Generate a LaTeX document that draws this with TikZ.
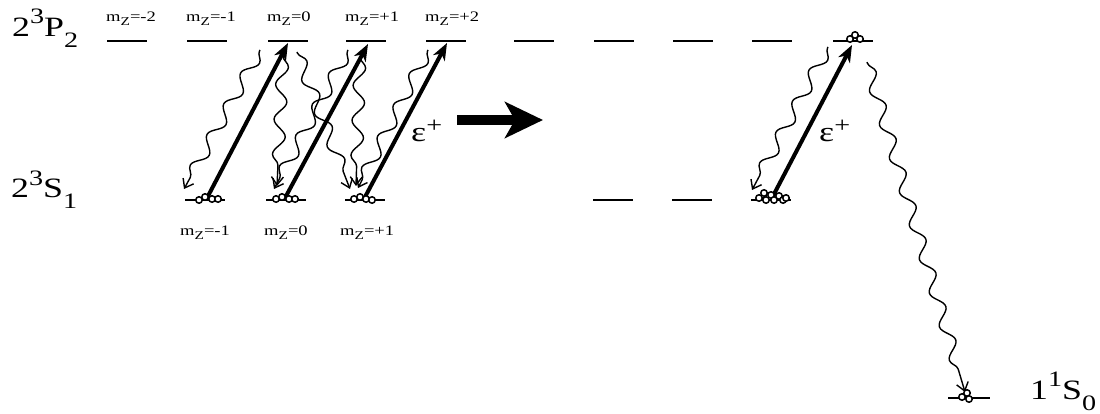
\documentclass[tikz,border=0pt]{standalone}
\usepackage{fontspec}
\setmainfont{Liberation Serif}[FakeStretch=1.28]
\usetikzlibrary{arrows.meta,decorations.pathmorphing}
\newcommand{\sps}[1]{\raisebox{13pt}{\fontsize{22}{22}\selectfont #1}}
\newcommand{\sbs}[1]{\raisebox{-11pt}{\fontsize{22}{22}\selectfont #1}}
\newcommand{\mzl}[1]{m\raisebox{-3.5pt}{\fontsize{12}{12}\selectfont Z}#1}
\begin{document}
\begin{tikzpicture}[x=1pt,y=-1pt,
  lvl/.style={line width=1.6pt},
  pump/.style={line width=4pt,-{Stealth[length=17pt,width=13pt,inset=5pt]}},
  wave/.style={line width=1.4pt,decorate,
    decoration={snake,amplitude=6pt,segment length=35pt,pre length=1pt,post length=8pt},
    -{Straight Barb[length=8pt,width=12pt]}},
  atom/.style={circle,draw,line width=1.5pt,fill=white,inner sep=0pt,minimum size=6.5pt},
  big/.style={font=\fontsize{28}{30}\selectfont,inner sep=0pt},
  mz/.style={font=\fontsize{14.5}{16}\selectfont,inner sep=0pt},
  bigarrow/.style={line width=10pt,-{Stealth[length=38pt,width=36pt,inset=10pt]}}]
\useasboundingbox (0,0) rectangle (1100,414);

% levels
\foreach \x [count=\i] in {107,187,268,346,426,514,594,673,752,833}{
  \coordinate (u\i a) at (\x,41); \coordinate (u\i b) at (\x+40,41);
  \draw[lvl] (u\i a) -- (u\i b);}
\foreach \x [count=\i] in {185,266,345,593,672,751}{
  \coordinate (l\i a) at (\x,200); \coordinate (l\i b) at (\x+40,200);
  \draw[lvl] (l\i a) -- (l\i b);}
\coordinate (g a) at (948,398); \coordinate (g b) at (990,398);
\draw[lvl] (g a) -- (g b);

% labels
\node[big,anchor=base west] (P2) at (12,37) {2\sps{3}P\sbs{2}};
\node[big,anchor=base west] (S1) at (11,198) {2\sps{3}S\sbs{1}};
\node[big,anchor=base west] (S0) at (1030,399) {1\sps{1}S\sbs{0}};
\node[mz,anchor=base west] (t1) at (106,22) {\mzl{=-2}};
\node[mz,anchor=base west] (t2) at (186,22) {\mzl{=-1}};
\node[mz,anchor=base west] (t3) at (267,22) {\mzl{=0}};
\node[mz,anchor=base west] (t4) at (345,22) {\mzl{=+1}};
\node[mz,anchor=base west] (t5) at (425,22) {\mzl{=+2}};
\node[mz,anchor=base west] (b1) at (180,236) {\mzl{=-1}};
\node[mz,anchor=base west] (b2) at (264,236) {\mzl{=0}};
\node[mz,anchor=base west] (b3) at (340,236) {\mzl{=+1}};
\node[big,anchor=base west] (e1) at (411,142) {ε\raisebox{9pt}{\fontsize{22}{22}\selectfont +}};
\node[big,anchor=base west] (e2) at (819,142) {ε\raisebox{9pt}{\fontsize{22}{22}\selectfont +}};

% big arrow
\coordinate (bA) at (457,120); \coordinate (bB) at (543,120);
\draw[bigarrow] (bA) -- (bB);

% wavy decays
\coordinate (w1s) at (260,50);  \coordinate (w1e) at (184,189);
\coordinate (w2s) at (283,55);  \coordinate (w2e) at (277,186);
\coordinate (w3s) at (297,52);  \coordinate (w3e) at (350,189);
\coordinate (w4s) at (348,50);  \coordinate (w4e) at (274,189);
\coordinate (w5s) at (360,56);  \coordinate (w5e) at (356,186);
\coordinate (w6s) at (428,50);  \coordinate (w6e) at (358,188);
\coordinate (w7s) at (828,47);  \coordinate (w7e) at (752,190);
\coordinate (w8s) at (867,62);  \coordinate (w8e) at (965,392);
\foreach \i in {1,...,8}{\draw[wave] (w\i s) -- (w\i e);}

% pump arrows
\coordinate (p1s) at (207,198); \coordinate (p1e) at (288,43);
\coordinate (p2s) at (285,198); \coordinate (p2e) at (368,44);
\coordinate (p3s) at (365,197); \coordinate (p3e) at (447,43);
\coordinate (p4s) at (773,196); \coordinate (p4e) at (852,45);
\foreach \i in {1,...,4}{\draw[pump] (p\i s) -- (p\i e);}

% atoms
\foreach \p [count=\i] in {(199,200),(205,197),(212,199),(218,199),
  (276,199),(282,197),(289,199),(295,199),
  (354,199),(360,197),(366,199),(372,200),
  (759,198),(764,193),(766,200),(771,195),(774,200),(779,196),(783,200),(786,198),
  (850,39),(855,35),(860,39),
  (962,397),(967,393),(969,399)}{
  \node[atom] (at\i) at \p {};}
\end{tikzpicture}
\end{document}
